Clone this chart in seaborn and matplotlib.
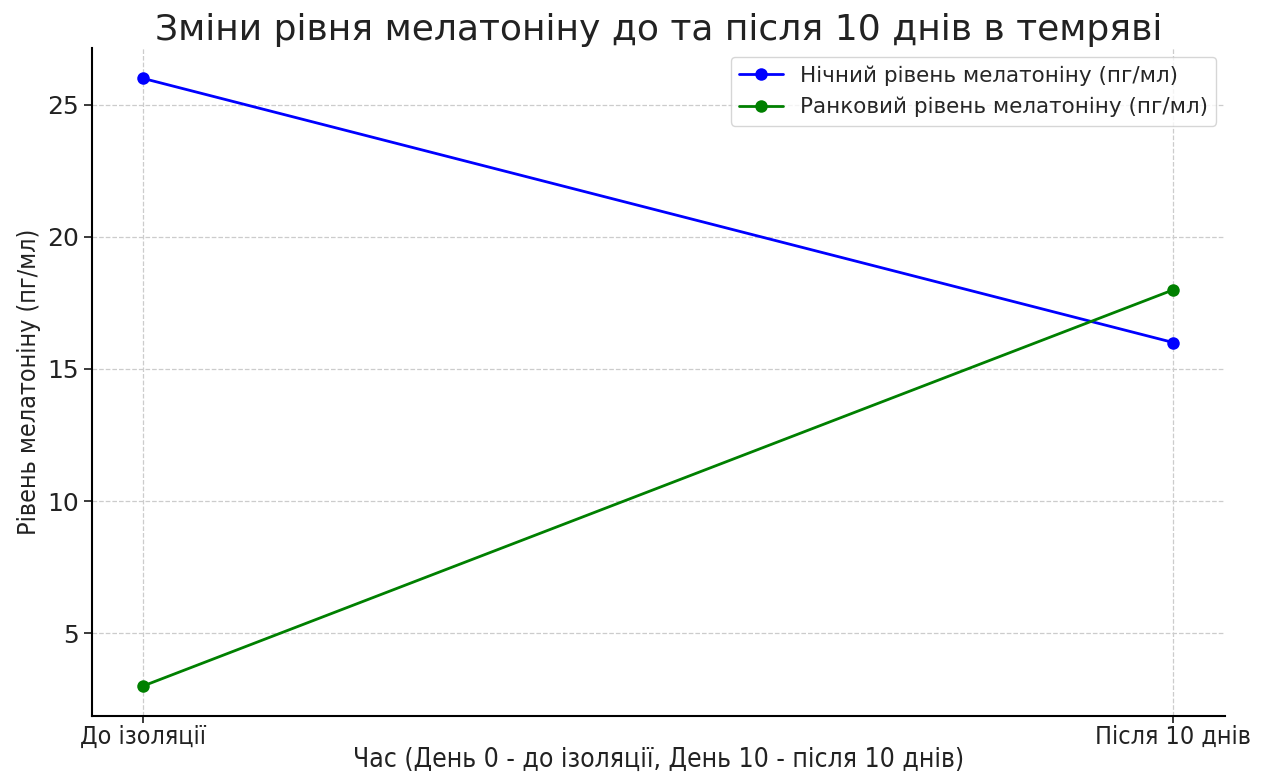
import matplotlib
matplotlib.use("Agg")
import matplotlib.pyplot as plt
import seaborn as sns
import pandas as pd

# data
stages = ["До ізоляції", "Після 10 днів"]
night_level = [26, 16]
morning_level = [3, 18]

NIGHT = "Нічний рівень мелатоніну (пг/мл)"
MORNING = "Ранковий рівень мелатоніну (пг/мл)"

df = pd.DataFrame({
    "Stage": stages * 2,
    "Level": night_level + morning_level,
    "Series": [NIGHT] * len(stages) + [MORNING] * len(stages),
})

sns.set_theme(style="ticks")
plt.rcParams['font.family'] = ['DejaVu Sans']

fig, ax = plt.subplots(figsize=(12.76, 7.76), dpi=100)
sns.lineplot(x="Stage", y="Level", data=df, hue="Series",
             palette={NIGHT: "blue", MORNING: "green"},
             marker="o", markersize=9, markeredgewidth=0, linewidth=2, sort=False, ax=ax)

ax.grid(True, linestyle="--", color="#cccccc", linewidth=0.9)
sns.despine(ax=ax)
for s in ["left", "bottom"]:
    ax.spines[s].set_color("black")
    ax.spines[s].set_linewidth(1.5)

ax.set_title("Зміни рівня мелатоніну до та після 10 днів в темряві", fontsize=26, color="#222222", pad=6)
ax.set_xlabel("Час (День 0 - до ізоляції, День 10 - після 10 днів)", fontsize=19, fontstretch="condensed",
              color="#222222")
ax.xaxis.set_label_coords(0.5, -0.046)
ax.set_ylabel("Рівень мелатоніну (пг/мл)", fontsize=18, fontstretch="condensed", color="#222222", labelpad=4)
ax.tick_params(axis="y", labelsize=18, colors="#222222")
ax.tick_params(axis="x", labelsize=18, colors="#222222", pad=1, length=5)
for lbl in ax.get_xticklabels():
    lbl.set_fontstretch("condensed")
ax.set_yticks([5, 10, 15, 20, 25])

handles, labels = ax.get_legend_handles_labels()
ax.legend(handles, labels, loc="upper right", fontsize=15.5, frameon=True, edgecolor="#cccccc", fancybox=True,
          title=None, borderaxespad=0.4)

fig.subplots_adjust(left=0.072, right=0.96, top=0.938, bottom=0.077)
fig.savefig("out.png", dpi=100, facecolor="white")
